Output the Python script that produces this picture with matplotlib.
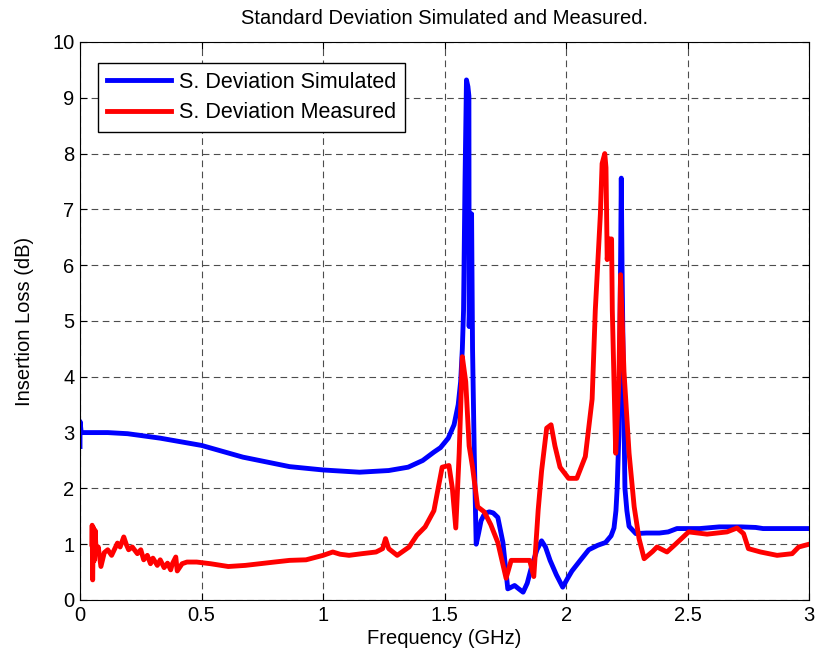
import matplotlib
matplotlib.use("Agg")
import matplotlib.pyplot as plt

plt.rcParams['font.family'] = ['Liberation Sans', 'DejaVu Sans']

# simulated curve (GHz, dB)
sim_f = [0, 0, 0.005, 0.05, 0.114, 0.196, 0.33, 0.5, 0.67, 0.862, 1.0, 1.15, 1.27, 1.35,
         1.41, 1.456, 1.483, 1.515, 1.539, 1.556, 1.566, 1.573, 1.578, 1.584, 1.590, 1.596,
         1.600, 1.601, 1.605, 1.611, 1.615, 1.622, 1.630, 1.640, 1.650, 1.665, 1.684, 1.700,
         1.719, 1.74, 1.760, 1.770, 1.788, 1.805, 1.823, 1.840, 1.857, 1.880, 1.899, 1.915,
         1.934, 1.96, 1.986, 2.005, 2.024, 2.06, 2.093, 2.13, 2.162, 2.185, 2.197, 2.205,
         2.21, 2.217, 2.222, 2.227, 2.230, 2.234, 2.242, 2.250, 2.259, 2.287, 2.33, 2.384,
         2.42, 2.456, 2.55, 2.63, 2.72, 2.78, 2.81, 2.9, 3.0]
sim_db = [2.75, 3.2, 3.0, 3.0, 3.0, 2.98, 2.9, 2.77, 2.56, 2.39, 2.33, 2.29, 2.32, 2.38,
          2.5, 2.65, 2.73, 2.9, 3.14, 3.5, 3.91, 4.5, 5.19, 7.5, 9.32, 9.2,
          9.03, 4.9, 5.5, 6.92, 4.5, 2.63, 1.0, 1.2, 1.42, 1.55, 1.58, 1.56,
          1.48, 1.03, 0.2, 0.22, 0.26, 0.2, 0.14, 0.3, 0.58, 0.9, 1.06, 0.95,
          0.71, 0.45, 0.23, 0.38, 0.52, 0.72, 0.9, 0.98, 1.03, 1.15, 1.29, 1.6,
          2.0, 2.95, 5.0, 7.56, 6.0, 4.55, 2.0, 1.6, 1.32, 1.19, 1.2, 1.2,
          1.22, 1.28, 1.28, 1.31, 1.31, 1.30, 1.28, 1.28, 1.28]

# measured curve (GHz, dB)
meas_f = [0.049, 0.050, 0.052, 0.055, 0.058, 0.062, 0.067, 0.075, 0.086, 0.1, 0.114, 0.13,
          0.154, 0.165, 0.18, 0.19, 0.2, 0.215, 0.236, 0.25, 0.262, 0.277, 0.29, 0.3,
          0.318, 0.33, 0.346, 0.36, 0.373, 0.38, 0.394, 0.4, 0.42, 0.44, 0.48, 0.537,
          0.61, 0.68, 0.74, 0.8, 0.862, 0.93, 1.0, 1.04, 1.07, 1.107, 1.16, 1.218,
          1.245, 1.257, 1.27, 1.305, 1.354, 1.386, 1.42, 1.456, 1.49, 1.518, 1.532, 1.546,
          1.56, 1.573, 1.587, 1.601, 1.615, 1.636, 1.663, 1.69, 1.719, 1.753, 1.774, 1.816,
          1.85, 1.867, 1.885, 1.899, 1.92, 1.938, 1.954, 1.975, 2.01, 2.044, 2.079, 2.107,
          2.12, 2.141, 2.148, 2.159, 2.164, 2.169, 2.176, 2.187, 2.19, 2.204, 2.217, 2.224,
          2.238, 2.259, 2.28, 2.30, 2.321, 2.356, 2.374, 2.415, 2.45, 2.504, 2.58, 2.662,
          2.703, 2.73, 2.75, 2.80, 2.868, 2.93, 2.957, 3.0]
meas_db = [1.0, 1.34, 0.36, 1.3, 0.7, 1.25, 0.83, 0.95, 0.6, 0.85, 0.9, 0.8,
           1.02, 0.95, 1.13, 1.0, 0.9, 0.95, 0.83, 0.9, 0.72, 0.8, 0.65, 0.75,
           0.62, 0.72, 0.58, 0.66, 0.54, 0.65, 0.77, 0.52, 0.65, 0.68, 0.68, 0.65,
           0.6, 0.62, 0.65, 0.68, 0.71, 0.72, 0.8, 0.86, 0.82, 0.8, 0.83, 0.86,
           0.92, 1.1, 0.92, 0.8, 0.95, 1.16, 1.31, 1.6, 2.38, 2.41, 2.0, 1.29,
           2.63, 4.36, 3.91, 2.76, 2.38, 1.67, 1.58, 1.35, 1.03, 0.39, 0.71, 0.71,
           0.71, 0.42, 1.61, 2.31, 3.08, 3.14, 2.76, 2.38, 2.18, 2.18, 2.57, 3.6,
           5.19, 6.92, 7.82, 8.0, 7.75, 6.1, 6.47, 6.47, 5.2, 2.63, 3.9, 5.83,
           4.1, 2.63, 1.67, 1.1, 0.74, 0.87, 0.95, 0.86, 1.0, 1.22, 1.18, 1.22,
           1.29, 1.19, 0.92, 0.86, 0.80, 0.83, 0.95, 1.0]

fs = 14.5

fig = plt.figure(figsize=(8.19, 6.61), dpi=100)
ax = fig.add_axes([0.0977, 0.0923, 0.8903, 0.8442])

ax.plot(sim_f, sim_db, color='#0000ff', lw=3.5, label='S. Deviation Simulated')
ax.plot(meas_f, meas_db, color='#ff0000', lw=3.5, label='S. Deviation Measured')

ax.set_xlim(0, 3)
ax.set_ylim(0, 10)
ax.set_xticks([0, 0.5, 1, 1.5, 2, 2.5, 3])
ax.set_xticklabels(['0', '0.5', '1', '1.5', '2', '2.5', '3'])
ax.set_yticks(range(11))
ax.grid(True, color='0.3', linestyle=(0, (6, 4)), lw=0.8)
ax.tick_params(direction='in', top=True, right=True, labelsize=fs, length=5, pad=4)

ax.set_title('Standard Deviation Simulated and Measured.', fontsize=fs, pad=13)
ax.set_xlabel('Frequency (GHz)', fontsize=fs, labelpad=3)
ax.set_ylabel('Insertion Loss (dB)', fontsize=fs, labelpad=13)

leg = ax.legend(loc='upper left', fontsize=15.5, fancybox=False, framealpha=1,
                edgecolor='black', handlelength=3.0, handletextpad=0.35,
                labelspacing=0.45, borderpad=0.4, borderaxespad=0,
                bbox_to_anchor=(0.0247, 0.9624))
leg.get_frame().set_linewidth(1.0)

fig.savefig('out.png', dpi=100)
